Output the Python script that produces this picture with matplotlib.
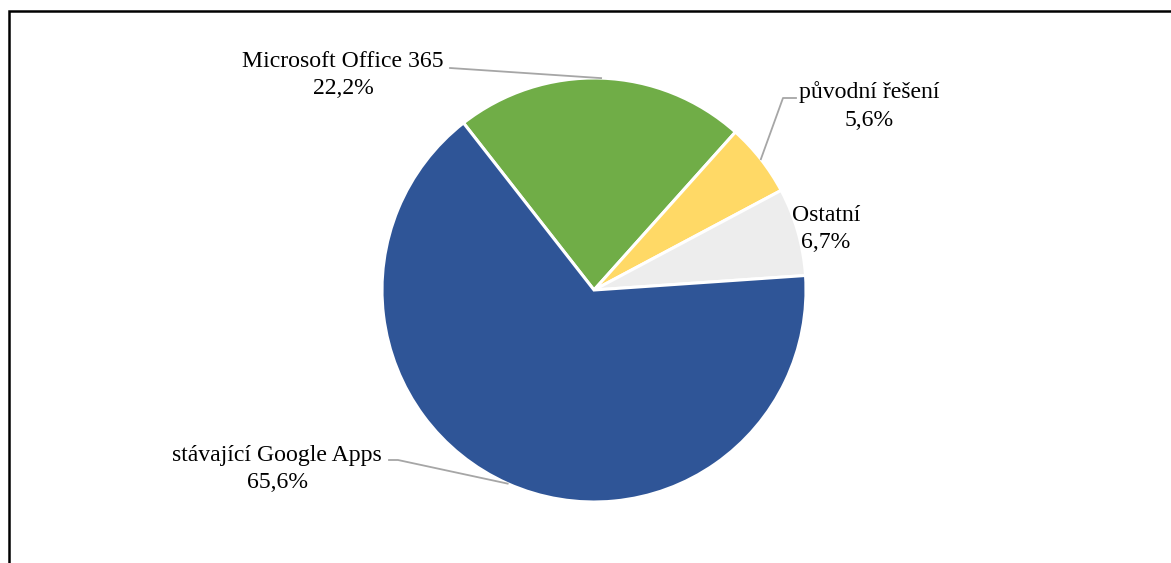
import numpy as np
import matplotlib.pyplot as plt

plt.rcParams['font.family'] = ['Liberation Serif', 'DejaVu Serif']

# data
labels = ['Microsoft Office 365', 'původní řešení', 'Ostatní', 'stávající Google Apps']
values = [22.2, 5.6, 6.7, 65.6]
colors = ['#70AD47', '#FFD966', '#EDEDED', '#2F5597']

W, H = 1171, 563
fig = plt.figure(figsize=(W / 100, H / 100), dpi=100)
ax = fig.add_axes([0, 0, 1, 1])

cx, cy, r = 594, H - 290, 212
wedges, _ = ax.pie(values, colors=colors, startangle=128, counterclock=False,
                   center=(cx, cy), radius=r, frame=True,
                   wedgeprops=dict(edgecolor='white', linewidth=2.2))
ax.set_xlim(0, W)
ax.set_ylim(0, H)
ax.axis('off')

# outer frame (bottom/right cut off)
ax.plot([8.5, 8.5, W + 5], [-5, H - 11, H - 11], color='black', lw=1.8,
        solid_joinstyle='miter', clip_on=False)

# label placement (text centre, px) and leader elbows
label_pos = [(343, 75), (869, 106), (826, 229), (277, 469)]
elbows = [[(450, 68)], [(796, 98), (783, 98)], None, [(389, 460), (398, 460)]]

fs = 17.1
for w, lab, val, (tx, ty), elb in zip(wedges, labels, values, label_pos, elbows):
    ax.text(tx, H - ty, f'{lab}\n{val:.1f}%'.replace('.', ','), ha='center', va='center',
            fontsize=fs, linespacing=1.38, color='black')
    if elb is None:
        continue
    mid = np.deg2rad((w.theta1 + w.theta2) / 2)
    ex, ey = cx + r * np.cos(mid), cy + r * np.sin(mid)
    xs = [p[0] for p in elb] + [ex]
    ys = [H - p[1] for p in elb] + [ey]
    ax.plot(xs, ys, color='#A6A6A6', lw=1.3)

fig.savefig('out.png', dpi=100)
